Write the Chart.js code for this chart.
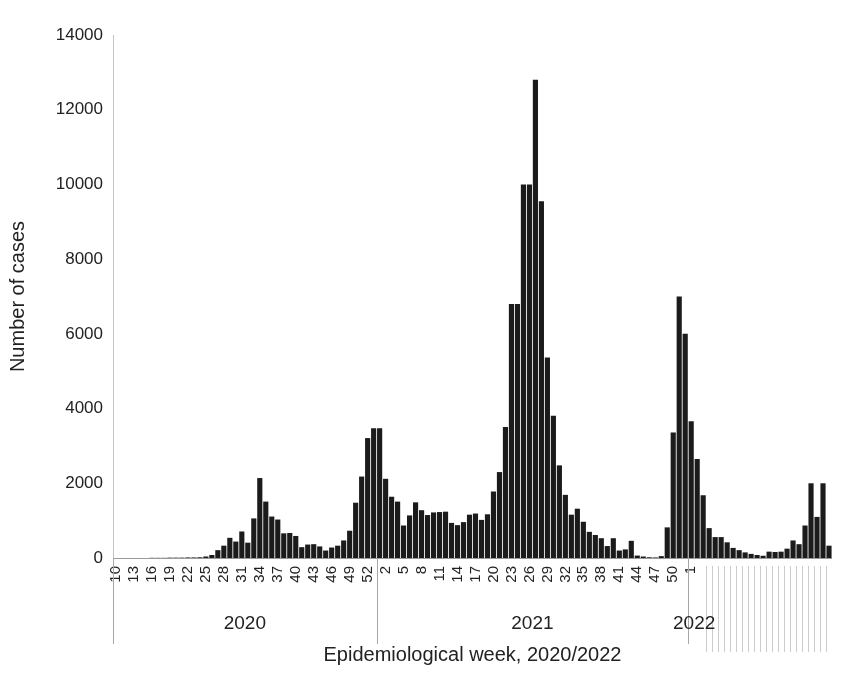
<!DOCTYPE html>
<html>
<head>
<meta charset="utf-8">
<script src="https://cdn.jsdelivr.net/npm/chart.js@4.4.0/dist/chart.umd.min.js"></script>
<style>
  html, body { margin: 0; padding: 0; background: #fff; }
</style>
</head>
<body>
<canvas id="casesChart" width="855" height="677"></canvas>
<script>
// Epidemiological weeks shown on the axis, one list per year
const weeks2020 = [10, 11, 12, 13, 14, 15, 16, 17, 18, 19, 20, 21, 22, 23, 24, 25, 26, 27, 28, 29, 30, 31,
  32, 33, 34, 35, 36, 37, 38, 39, 40, 41, 42, 43, 44, 45, 46, 47, 48, 49, 50, 51, 52, 53];
const weeks2021 = [1, 2, 3, 4, 5, 6, 7, 8, 9, 10, 11, 12, 13, 14, 15, 16, 17, 18, 19, 20, 21, 22, 23, 24, 25, 26,
  27, 28, 29, 30, 31, 32, 33, 34, 35, 36, 37, 38, 39, 40, 41, 42, 43, 44, 45, 46, 47, 48, 49, 50, 51, 52];
const weeks2022 = [1, 2, 3, 4, 5, 6, 7, 8, 9, 10, 11, 12, 13, 14, 15, 16, 17, 18, 19, 20, 21, 22, 23, 24];

// Number of cases per week
const cases2020 = [0, 0, 0, 0, 0, 0, 5, 5, 5, 10, 10, 10, 15, 15, 20, 40, 80, 210, 330, 540, 440, 710,
  410, 1060, 2140, 1510, 1110, 1030, 660, 670, 590, 290, 360, 370, 310, 200, 280, 330, 470, 730, 1480, 2180, 3210, 3470];
const cases2021 = [3470, 2120, 1640, 1510, 870, 1140, 1490, 1280, 1150, 1220, 1230, 1240, 940, 880, 960, 1160,
  1190, 1020, 1170, 1780, 2300, 3510, 6800, 6800, 10000, 10000, 12800, 9550, 5370, 3810, 2480, 1690, 1160,
  1320, 970, 700, 615, 530, 320, 530, 200, 230, 460, 65, 40, 20, 15, 50, 820, 3360, 7000, 6000];
const cases2022 = [3660, 2650, 1680, 800, 560, 560, 420, 270, 210, 150, 110, 80, 60, 170, 160, 170, 250, 470,
  370, 870, 2000, 1100, 2000, 330];

const years = ["2020", "2021", "2022"];
const yTicks = [0, 2000, 4000, 6000, 8000, 10000, 12000, 14000];

// Build the flat category list
const labels = [...weeks2020, ...weeks2021, ...weeks2022].map(String);
const cases = [...cases2020, ...cases2021, ...cases2022];
const n2020 = weeks2020.length;
const n2021 = weeks2021.length;
const lastLabelled = n2020 + n2021; // week 1 of 2022 is the last printed label

const font = "'Liberation Sans', Arial, sans-serif";
const ink = "#222";

// Year names, year separators and the unlabelled 2022 tick area
const yearMarks = {
  id: "yearMarks",
  afterDraw(chart) {
    const ctx = chart.ctx;
    const xs = chart.scales.x;
    const half = (xs.getPixelForValue(1) - xs.getPixelForValue(0)) / 2;
    const top = xs.top;
    ctx.save();
    ctx.lineWidth = 1;

    ctx.strokeStyle = "#cccccc";
    for (let i = lastLabelled + 3; i < labels.length; i++) {
      const px = Math.round(xs.getPixelForValue(i) - half) + 0.5;
      ctx.beginPath();
      ctx.moveTo(px, top + 8);
      ctx.lineTo(px, top + 94);
      ctx.stroke();
    }

    ctx.strokeStyle = "#a6a6a6";
    [0, n2020, n2020 + n2021].forEach((i) => {
      const px = Math.round(xs.getPixelForValue(i) - half) + 0.5;
      ctx.beginPath();
      ctx.moveTo(px, top);
      ctx.lineTo(px, top + 86);
      ctx.stroke();
    });

    ctx.fillStyle = ink;
    ctx.font = "19px " + font;
    ctx.textAlign = "center";
    ctx.textBaseline = "middle";
    const centres = [(n2020 - 1) / 2, n2020 + (n2021 - 1) / 2, n2020 + n2021 + 0.5];
    years.forEach((yr, k) => {
      ctx.fillText(yr, xs.getPixelForValue(centres[k]), top + 66);
    });
    ctx.restore();
  },
};

const config = {
  type: "bar",
  data: {
    labels: labels,
    datasets: [
      {
        label: "Cases",
        data: cases,
        backgroundColor: "#1b1b1b",
        borderWidth: 0,
        barPercentage: 0.86,
        categoryPercentage: 1.0,
      },
    ],
  },
  options: {
    responsive: false,
    animation: false,
    devicePixelRatio: 1,
    layout: { padding: { top: 35, right: 0, bottom: 0, left: 0 } },
    plugins: {
      legend: { display: false },
      tooltip: { enabled: false },
    },
    scales: {
      x: {
        grid: { display: false, drawTicks: false },
        border: { display: true, color: "#9a9a9a", width: 1 },
        ticks: {
          autoSkip: false,
          minRotation: 90,
          maxRotation: 90,
          padding: 8,
          color: ink,
          font: { family: font, size: 15 },
          callback: function (value, index) {
            return index % 3 === 0 && index <= lastLabelled ? this.getLabelForValue(value) : "";
          },
        },
        title: {
          display: true,
          text: "Epidemiological week, 2020/2022",
          color: ink,
          font: { family: font, size: 20 },
          padding: { top: 0, bottom: 10 },
        },
        afterFit: (scale) => {
          scale.height = 119;
        },
      },
      y: {
        min: 0,
        max: 14000,
        afterBuildTicks: (scale) => {
          scale.ticks = yTicks.map((v) => ({ value: v }));
        },
        grid: { display: false, drawTicks: false },
        border: { display: true, color: "#c4c4c4", width: 1 },
        ticks: {
          padding: 10,
          color: ink,
          font: { family: font, size: 17 },
          callback: (value) => String(value),
        },
        title: {
          display: true,
          text: "Number of cases",
          color: ink,
          font: { family: font, size: 20 },
          padding: { top: 6, bottom: 0 },
        },
        afterFit: (scale) => {
          scale.width = 113;
        },
      },
    },
  },
  plugins: [yearMarks],
};

const ctx = document.getElementById("casesChart").getContext("2d");
new Chart(ctx, config);
</script>
</body>
</html>
